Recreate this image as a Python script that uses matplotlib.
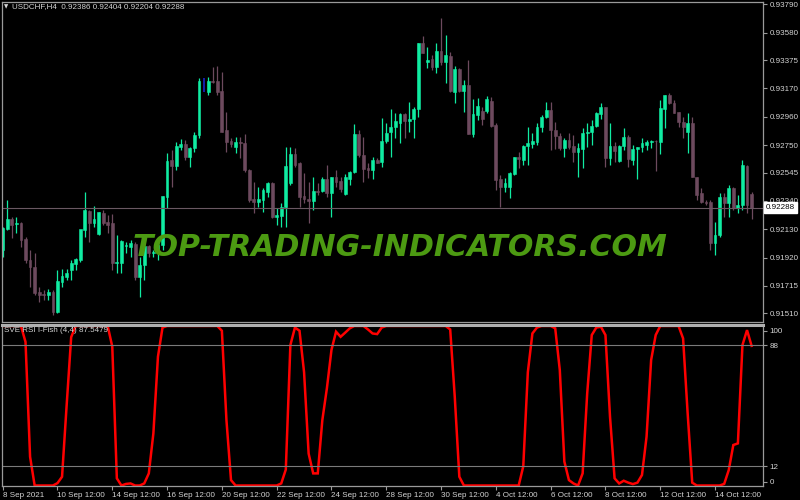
import matplotlib
matplotlib.use("Agg")
import matplotlib.pyplot as plt
from matplotlib import font_manager

# ---------------- data ----------------
opens = [0.91977, 0.92129, 0.92203, 0.92168, 0.92178, 0.92058, 0.91903, 0.91854, 0.91664, 0.91650,
         0.91645, 0.91669, 0.91522, 0.91743, 0.91780, 0.91829, 0.91873, 0.91903, 0.92124, 0.92266,
         0.92173, 0.92094, 0.92252, 0.92185, 0.92173, 0.91878, 0.91883, 0.92008, 0.92001, 0.92021,
         0.91775, 0.91866, 0.92006, 0.91952, 0.91977, 0.92013, 0.92370, 0.92640, 0.92596, 0.92734,
         0.92758, 0.92660, 0.92726, 0.92824, 0.93205, 0.93143, 0.93222, 0.93222, 0.93148, 0.92861,
         0.92780, 0.92734, 0.92775, 0.92763, 0.92566, 0.92350, 0.92333, 0.92345, 0.92406, 0.92468,
         0.92222, 0.92227, 0.92296, 0.92468, 0.92684, 0.92615, 0.92374, 0.92352, 0.92340, 0.92411,
         0.92411, 0.92500, 0.92394, 0.92512, 0.92487, 0.92392, 0.92500, 0.92549, 0.92831, 0.92677,
         0.92578, 0.92566, 0.92640, 0.92628, 0.92782, 0.92843, 0.92886, 0.92916, 0.92977, 0.92928,
         0.92940, 0.93014, 0.93500, 0.93365, 0.93382, 0.93328, 0.93444, 0.93365, 0.93410, 0.93144,
         0.93311, 0.93149, 0.93193, 0.92832, 0.92972, 0.93004, 0.93004, 0.93078, 0.92898, 0.92498,
         0.92444, 0.92439, 0.92537, 0.92660, 0.92640, 0.92746, 0.92758, 0.92776, 0.92886, 0.92955,
         0.93009, 0.92861, 0.92817, 0.92726, 0.92788, 0.92744, 0.92702, 0.92719, 0.92837, 0.92849,
         0.92891, 0.92979, 0.93029, 0.92658, 0.92746, 0.92633, 0.92744, 0.92812, 0.92640, 0.92719,
         0.92734, 0.92751, 0.92776, 0.92783, 0.92776, 0.93014, 0.93119, 0.93058, 0.92992, 0.92923,
         0.92849, 0.92911, 0.92517, 0.92400, 0.92333, 0.92333, 0.92026, 0.92087, 0.92370, 0.92321,
         0.92431, 0.92284, 0.92309, 0.92596, 0.92386]
highs = [0.92148, 0.92345, 0.92222, 0.92222, 0.92185, 0.92075, 0.91977, 0.91952, 0.91706, 0.91682,
         0.91687, 0.91682, 0.91829, 0.91834, 0.91834, 0.91903, 0.91915, 0.91915, 0.92406, 0.92271,
         0.92301, 0.92254, 0.92271, 0.92234, 0.92242, 0.92087, 0.92050, 0.92038, 0.92050, 0.92038,
         0.91927, 0.92038, 0.92013, 0.91977, 0.92050, 0.92374, 0.92689, 0.92714, 0.92775, 0.92792,
         0.92787, 0.92738, 0.92849, 0.93242, 0.93242, 0.93254, 0.93328, 0.93333, 0.93291, 0.92996,
         0.92799, 0.92812, 0.92812, 0.92831, 0.92571, 0.92480, 0.92438, 0.92431, 0.92480, 0.92480,
         0.92284, 0.92320, 0.92733, 0.92733, 0.92726, 0.92628, 0.92546, 0.92480, 0.92517, 0.92468,
         0.92517, 0.92603, 0.92517, 0.92566, 0.92517, 0.92536, 0.92561, 0.92905, 0.92861, 0.92812,
         0.92615, 0.92664, 0.92652, 0.92947, 0.92910, 0.93016, 0.92990, 0.92984, 0.92984, 0.93070,
         0.93033, 0.93505, 0.93554, 0.93476, 0.93414, 0.93505, 0.93685, 0.93562, 0.93439, 0.93333,
         0.93316, 0.93230, 0.93377, 0.93087, 0.93095, 0.93033, 0.93112, 0.93102, 0.92916, 0.92530,
         0.92505, 0.92555, 0.92665, 0.92702, 0.92751, 0.92881, 0.92837, 0.92911, 0.92972, 0.93070,
         0.93070, 0.92923, 0.92837, 0.92800, 0.92837, 0.92825, 0.92763, 0.92874, 0.92916, 0.92935,
         0.92997, 0.93058, 0.93033, 0.92911, 0.92775, 0.92751, 0.92874, 0.92825, 0.92751, 0.92739,
         0.92800, 0.92788, 0.92788, 0.92788, 0.93083, 0.93119, 0.93132, 0.93083, 0.92997, 0.92960,
         0.92984, 0.92960, 0.92517, 0.92431, 0.92345, 0.92345, 0.92186, 0.92395, 0.92395, 0.92456,
         0.92444, 0.92382, 0.92641, 0.92604, 0.92404]
lows = [0.91927, 0.92124, 0.92062, 0.92099, 0.92001, 0.91878, 0.91706, 0.91645, 0.91596, 0.91608,
        0.91608, 0.91497, 0.91510, 0.91706, 0.91755, 0.91755, 0.91829, 0.91891, 0.92075, 0.92038,
        0.92148, 0.92087, 0.92161, 0.92099, 0.91829, 0.91805, 0.91805, 0.91952, 0.91927, 0.91755,
        0.91633, 0.91755, 0.91927, 0.91927, 0.91903, 0.91977, 0.92284, 0.92443, 0.92566, 0.92714,
        0.92640, 0.92591, 0.92701, 0.92800, 0.93143, 0.93119, 0.93205, 0.93119, 0.92849, 0.92701,
        0.92738, 0.92694, 0.92652, 0.92554, 0.92333, 0.92247, 0.92296, 0.92259, 0.92370, 0.92210,
        0.92161, 0.92148, 0.92148, 0.92456, 0.92591, 0.92296, 0.92320, 0.92173, 0.92271, 0.92382,
        0.92406, 0.92370, 0.92217, 0.92443, 0.92406, 0.92382, 0.92456, 0.92541, 0.92664, 0.92480,
        0.92505, 0.92497, 0.92615, 0.92591, 0.92763, 0.92660, 0.92800, 0.92763, 0.92800, 0.92849,
        0.92800, 0.92960, 0.93427, 0.93316, 0.93304, 0.93279, 0.93340, 0.93205, 0.93144, 0.93058,
        0.93144, 0.92997, 0.92832, 0.92812, 0.92935, 0.92898, 0.92984, 0.92881, 0.92419, 0.92296,
        0.92407, 0.92358, 0.92530, 0.92579, 0.92604, 0.92604, 0.92726, 0.92751, 0.92849, 0.92947,
        0.92714, 0.92719, 0.92714, 0.92665, 0.92719, 0.92628, 0.92518, 0.92579, 0.92739, 0.92751,
        0.92886, 0.92940, 0.92586, 0.92603, 0.92628, 0.92628, 0.92714, 0.92586, 0.92603, 0.92498,
        0.92702, 0.92714, 0.92726, 0.92562, 0.92685, 0.92874, 0.93053, 0.92984, 0.92881, 0.92800,
        0.92694, 0.92517, 0.92345, 0.92321, 0.92309, 0.91977, 0.91940, 0.92075, 0.92223, 0.92223,
        0.92272, 0.92247, 0.92272, 0.92247, 0.92204]
closes = [0.92136, 0.92203, 0.92161, 0.92173, 0.92050, 0.91903, 0.91854, 0.91657, 0.91645, 0.91645,
          0.91664, 0.91522, 0.91748, 0.91785, 0.91809, 0.91883, 0.91908, 0.92129, 0.92271, 0.92173,
          0.92205, 0.92254, 0.92178, 0.92161, 0.91878, 0.91890, 0.92043, 0.92010, 0.92026, 0.91775,
          0.91866, 0.92006, 0.91952, 0.91964, 0.92013, 0.92374, 0.92635, 0.92596, 0.92746, 0.92758,
          0.92664, 0.92726, 0.92824, 0.93225, 0.93205, 0.93225, 0.93213, 0.93143, 0.92849, 0.92775,
          0.92758, 0.92775, 0.92763, 0.92566, 0.92345, 0.92333, 0.92350, 0.92419, 0.92468, 0.92222,
          0.92234, 0.92296, 0.92596, 0.92684, 0.92603, 0.92370, 0.92352, 0.92340, 0.92411, 0.92404,
          0.92500, 0.92394, 0.92512, 0.92480, 0.92424, 0.92512, 0.92549, 0.92831, 0.92677, 0.92571,
          0.92566, 0.92640, 0.92620, 0.92782, 0.92836, 0.92886, 0.92928, 0.92977, 0.92928, 0.92945,
          0.93016, 0.93500, 0.93432, 0.93377, 0.93328, 0.93444, 0.93365, 0.93414, 0.93149, 0.93311,
          0.93149, 0.93193, 0.92832, 0.92977, 0.93041, 0.92940, 0.93087, 0.92891, 0.92493, 0.92444,
          0.92468, 0.92542, 0.92660, 0.92645, 0.92746, 0.92763, 0.92780, 0.92886, 0.92960, 0.93009,
          0.92861, 0.92817, 0.92726, 0.92788, 0.92739, 0.92702, 0.92726, 0.92842, 0.92849, 0.92891,
          0.92989, 0.93029, 0.92658, 0.92744, 0.92709, 0.92744, 0.92812, 0.92645, 0.92719, 0.92739,
          0.92763, 0.92776, 0.92783, 0.92781, 0.93021, 0.93119, 0.93058, 0.92989, 0.92923, 0.92886,
          0.92911, 0.92517, 0.92382, 0.92333, 0.92321, 0.92026, 0.92087, 0.92365, 0.92321, 0.92431,
          0.92284, 0.92309, 0.92604, 0.92309, 0.92288]

rsi_fish = [100, 100, 100, 100, 100, 90, 18, 0, 0, 0,
            0, 0, 1.5, 5.5, 50, 93, 100, 100, 100, 100,
            100, 100, 100, 100, 87, 4.5, 0, 1, 1.3, 0,
            0, 1.3, 7.6, 32.7, 80.7, 99, 100, 100, 100, 100,
            100, 100, 100, 100, 100, 100, 100, 100, 97, 41,
            3.4, 0, 0, 0, 0, 0, 0, 0, 0, 0,
            0, 1.3, 10, 88, 99, 97, 71, 20, 7.6, 7.6,
            41, 61, 85, 96.4, 93.2, 95.8, 98.5, 100, 100, 100,
            97.8, 95.3, 94.9, 99, 100, 100, 100, 100, 100, 100,
            100, 100, 100, 100, 100, 100, 100, 100, 97.8, 55.6,
            5.5, 0, 0, 0, 0, 0, 0, 0, 0, 0,
            0, 0, 0, 0, 12, 71, 95.3, 99, 100, 100,
            100, 98.5, 72.4, 15, 3.4, 1.3, 0, 7.6, 57.7, 94.3,
            99, 99.5, 94.3, 43, 4.5, 1.3, 3, 1.8, 0.9, 1.8,
            6.6, 30.6, 78.6, 94.3, 100, 100, 100, 100, 100, 92.2,
            45.2, 1.8, 0, 0, 0, 0, 0, 0, 1, 9.7,
            25.4, 26.4, 88, 97.4, 87.55]

special_bar = 44          # bar drawn in blue on the chart
price_ticks = [0.93790, 0.93580, 0.93375, 0.93170, 0.92960, 0.92750,
               0.92545, 0.92340, 0.92130, 0.91920, 0.91715, 0.91510]
bid_price = 0.92288
levels = [12, 88]
ind_ticks = [2.4, 12, 88, 97]
ind_tick_labels = ["0", "12", "88", "100"]
date_tick_pos = [0, 12, 24, 36, 48, 60, 72, 84, 96, 108, 120, 132, 144, 156]
date_labels = ["8 Sep 2021", "10 Sep 12:00", "14 Sep 12:00", "16 Sep 12:00",
               "20 Sep 12:00", "22 Sep 12:00", "24 Sep 12:00", "28 Sep 12:00",
               "30 Sep 12:00", "4 Oct 12:00", "6 Oct 12:00", "8 Oct 12:00",
               "12 Oct 12:00", "14 Oct 12:00"]
title = "USDCHF,H4  0.92386 0.92404 0.92204 0.92288"
ind_title = "SVE RSI I-Fish (4,4) 87.5479"
watermark = "TOP-TRADING-INDICATORS.COM"

# ---------------- style ----------------
plt.rcParams["font.family"] = ["Liberation Sans", "DejaVu Sans"]
BULL = "#10eca2"
BEAR = "#6d4a5e"
TXT = "#d4d4d4"
FRAME = "#9a9a9a"
FS = 5.8

fig = plt.figure(figsize=(8, 5), dpi=100, facecolor="black")
W, H = 800.0, 500.0
ax = fig.add_axes([2 / W, (H - 322) / H, 761 / W, 320 / H])
ax2 = fig.add_axes([2 / W, (H - 486) / H, 761 / W, 161 / H])

for a in (ax, ax2):
    a.set_facecolor("black")
    for s in a.spines.values():
        s.set_color(FRAME)
        s.set_linewidth(0.9)
    a.set_xlim(-0.15, 166.5)
    a.yaxis.tick_right()
    a.tick_params(axis="y", colors=FRAME, labelcolor=TXT, labelsize=FS,
                  length=3, width=0.8, pad=1.5, direction="out")

ax2.spines["top"].set_linewidth(2.2)
ax2.spines["top"].set_color("#b0b0b0")

# candles
n = len(closes)
for i in range(n):
    o, h, l, c = opens[i], highs[i], lows[i], closes[i]
    if i == special_bar:
        ax.vlines(i, l, h, color="#1a22c8", lw=1.2)
        continue
    col = BULL if c >= o else BEAR
    ax.vlines(i, l, h, color=col, lw=0.9)
    ax.bar(i, abs(c - o), bottom=min(o, c), width=0.62, color=col,
           edgecolor=col, linewidth=0.4)

ax.set_ylim(0.91446, 0.93805)
ax.set_yticks(price_ticks)
ax.set_yticklabels([f"{p:.5f}" for p in price_ticks])
ax.set_xticks([])

ax.axhline(bid_price, color="#6a5862", lw=0.8)
ax.text(1.004, bid_price, f"{bid_price:.5f}", transform=ax.get_yaxis_transform(),
        ha="left", va="center", fontsize=FS, color="black",
        bbox=dict(boxstyle="square,pad=0.25", fc="white", ec="white"), clip_on=False,
        zorder=10)

# indicator
ax2.plot(range(len(rsi_fish)), rsi_fish, color="#ff0000", lw=1.8, solid_joinstyle="miter")
for lv in levels:
    ax2.axhline(lv, color="#7a7a7a", lw=0.8)
ax2.set_ylim(-0.3, 100.6)
ax2.set_yticks(ind_ticks)
ax2.set_yticklabels(ind_tick_labels)
ax2.set_xticks(date_tick_pos)
ax2.set_xticklabels(date_labels, ha="left")
ax2.tick_params(axis="x", colors=FRAME, labelcolor=TXT, labelsize=FS,
                length=3, width=0.8, pad=1.0, direction="out")

# texts
fig.text(4 / W, 1 - 7 / H, "▼", fontsize=4, color=TXT, ha="left", va="center",
         family=["DejaVu Sans"])
fig.text(12 / W, 1 - 7 / H, title, fontsize=FS, color=TXT, ha="left", va="center")
fig.text(4 / W, 1 - 331 / H, ind_title, fontsize=FS, color=TXT, ha="left", va="center")

# watermark: prefer a narrow bold face, then fit to the reference width
avail = {f.name for f in font_manager.fontManager.ttflist}
wm_family = "Liberation Sans Narrow" if "Liberation Sans Narrow" in avail else "DejaVu Sans"
wm = fig.text(0.5, 1 - 248 / H, watermark, fontsize=30, fontweight="bold", style="italic",
              family=[wm_family], color="#4c9a12", ha="center", va="center", zorder=20)
fig.canvas.draw()
wpx = wm.get_window_extent(fig.canvas.get_renderer()).width
wm.set_fontsize(min(30, 30 * 535.0 / wpx))

fig.savefig("out.png", dpi=100, facecolor="black")
